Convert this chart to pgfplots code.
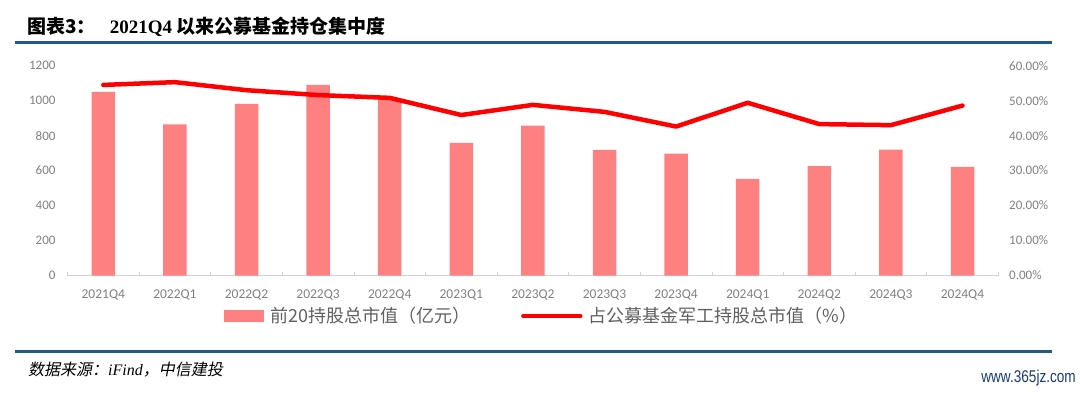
\documentclass[border=0pt]{standalone}
\usepackage{pgfplots}
\pgfplotsset{compat=1.18}
\usepackage{fontspec}
\setmainfont{Liberation Serif}
\newfontfamily\cjk{Noto Sans CJK SC}
\newfontfamily\slcjk{Noto Sans CJK SC}[FakeSlant=0.2]
\newfontfamily\cali{Carlito}
\newfontfamily\wm{Liberation Sans}[FakeStretch=0.8]
\definecolor{barred}{HTML}{FF8080}
\definecolor{linered}{HTML}{FF0000}
\definecolor{tickgray}{HTML}{808080}
\definecolor{leggray}{HTML}{606060}
\definecolor{rule}{HTML}{1F5A8C}
\definecolor{wmblue}{HTML}{1A3A7A}
\begin{document}
\begin{tikzpicture}
\path[use as bounding box] (0pt,0pt) rectangle (1080pt,392pt);
% title
\node[anchor=west, inner sep=0pt] at (27pt,365pt) {\fontsize{19}{22}\selectfont{\cjk\bfseries 图表3：}\hspace{14pt}{\bfseries 2021Q4} {\cjk\bfseries 以来公募基金持仓集中度}};
\draw[rule, line width=3pt] (15pt,349pt) -- (1052pt,349pt);
\draw[rule, line width=3pt] (15pt,41pt) -- (1052pt,41pt);
\node[anchor=west, inner sep=0pt] at (28pt,22pt) {\fontsize{16}{18}\selectfont{\slcjk 数据来源：}{\itshape iFind}{\slcjk ，中信建投}};
\node[anchor=east, inner sep=0pt, text=wmblue] at (1076pt,14pt) {\fontsize{17}{19}\selectfont\wm www.365jz.com};

\begin{axis}[
  at={(67.5pt,116.5pt)}, anchor=south west,
  scale only axis, width=930.8pt, height=209.8pt,
  xmin=-0.5, xmax=12.5, ymin=0, ymax=1200,
  axis x line*=bottom, axis y line*=left,
  x axis line style={draw=black!18, line width=0.8pt},
  y axis line style={draw=none},
  major tick length=0pt,
  ytick={0,200,...,1200},
  /pgf/number format/1000 sep={},
  /pgf/number format/assume math mode=true,
  yticklabel style={font=\cali\fontsize{13}{15}\selectfont, text=tickgray, inner sep=0pt, xshift=-11.8pt},
  xtick={0,...,12},
  xticklabels={2021Q4,2022Q1,2022Q2,2022Q3,2022Q4,2023Q1,2023Q2,2023Q3,2023Q4,2024Q1,2024Q2,2024Q3,2024Q4},
  xticklabel style={font=\cali\fontsize{13.5}{15}\selectfont, text=tickgray, inner sep=0pt, anchor=north, yshift=-14pt},
  extra x ticks={-0.5,0.5,...,12.5},
  extra x tick labels={},
  extra x tick style={major tick length=4pt, tick align=inside, tick style={draw=black!18, line width=0.8pt}},
  legend style={at={(0.168,-0.193)}, anchor=west, draw=none, fill=none, inner sep=0pt,
    font=\cjk\fontsize{18}{20}\selectfont, text=leggray,
    /tikz/every even column/.append style={column sep=51pt},
    /tikz/every odd column/.append style={column sep=6pt},
    nodes={inner sep=0pt, anchor=west}},
  legend columns=2,
  legend cell align=left,
]
\addplot[ybar, bar width=23.5pt, fill=barred, draw=none,
  legend image code/.code={\fill[barred] (0pt,-6pt) rectangle (40pt,6pt);}]
  coordinates {(0,1051) (1,865) (2,981) (3,1090) (4,1012) (5,758) (6,857) (7,718) (8,697) (9,552) (10,625) (11,720) (12,622)};
\addlegendentry{前20持股总市值（亿元）}
\addlegendimage{linered, line width=4.5pt, legend image code/.code={\draw[linered, line width=4.5pt, line cap=round] (0pt,0pt) -- (57pt,0pt);}}
\addlegendentry{占公募基金军工持股总市值（\%）}
\end{axis}

\begin{axis}[
  at={(67.5pt,116.5pt)}, anchor=south west,
  scale only axis, width=930.8pt, height=209.8pt,
  xmin=-0.5, xmax=12.5, ymin=0, ymax=60,
  axis x line=none, axis y line*=right,
  y axis line style={draw=none},
  major tick length=0pt,
  ytick={0,10,...,60},
  yticklabels={0.00\%,10.00\%,20.00\%,30.00\%,40.00\%,50.00\%,60.00\%},
  yticklabel style={font=\cali\fontsize{13}{15}\selectfont, text=tickgray, inner sep=0pt, anchor=west, xshift=10.7pt},
]
\addplot[linered, line width=4.5pt, line cap=round, line join=round, mark=none]
  coordinates {(0,54.5) (1,55.3) (2,53.0) (3,51.6) (4,50.8) (5,45.9) (6,48.8) (7,46.8) (8,42.6) (9,49.4) (10,43.3) (11,43.0) (12,48.6)};
\end{axis}
\end{tikzpicture}
\end{document}
